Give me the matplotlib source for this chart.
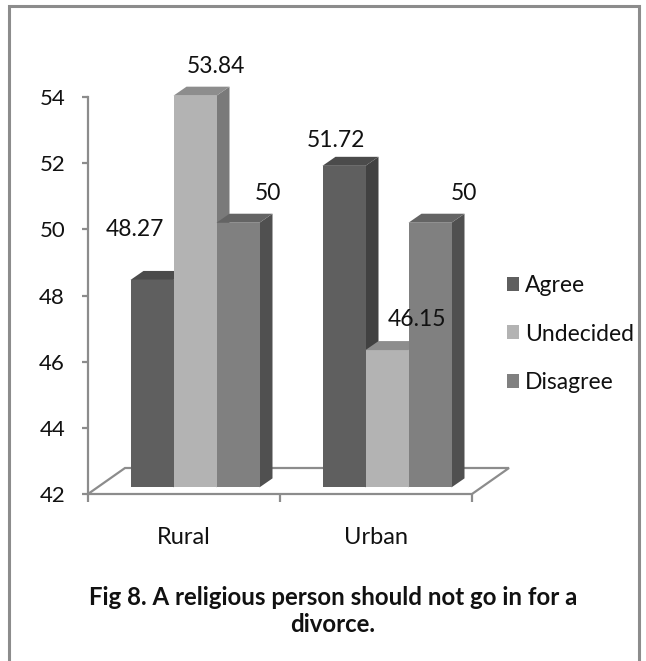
import matplotlib
matplotlib.use("Agg")
import matplotlib.pyplot as plt
from matplotlib.patches import Polygon, Rectangle
import numpy as np

plt.rcParams['font.family'] = ['Lato', 'DejaVu Sans']

groups = ["Rural", "Urban"]
series = ["Agree", "Undecided", "Disagree"]
values = [
    [48.27, 51.72],   # Agree
    [53.84, 46.15],   # Undecided
    [50, 50],         # Disagree
]
yticks = [42, 44, 46, 48, 50, 52, 54]
caption = "Fig 8. A religious person should not go in for a\ndivorce."

# front / top / side shades for each series
front = ["#5f5f5f", "#b3b3b3", "#808080"]
top = ["#4b4b4b", "#8d8d8d", "#646464"]
side = ["#414141", "#7a7a7a", "#505050"]
grey = "#8c8c8c"

# label offsets in pixels (x, y) for each bar, per group
label_off = [
    [(-17, 50), (-8, 25)],
    [(21, 29), (30, 31)],
    [(30, 29), (34, 29)],
]

W, H = 646, 661
fig = plt.figure(figsize=(W / 100, H / 100), dpi=100)

# outer frame
fig.patches.append(Rectangle((9 / W, -0.05), 630 / W, 1.05 - 6 / H,
                             transform=fig.transFigure, fill=False,
                             edgecolor=grey, lw=2.2))

ax = fig.add_axes([88 / W, 1 - 494 / H, 384 / W, (494 - 97) / H])
ax.set_xlim(-0.5, 1.5)
ax.set_ylim(42, 54)

ppx = 384 / 2.0            # pixels per category unit
ppy = (494 - 97) / 12.0    # pixels per value unit

# floor of the 3D box
fdx, fdy = 37 / ppx, 26 / ppy
floor = Polygon([(-0.5, 42), (-0.5 + fdx, 42 + fdy), (1.5 + fdx, 42 + fdy), (1.5, 42)],
                closed=True, facecolor="white", edgecolor=grey, lw=1.6,
                clip_on=False, zorder=1)
ax.add_patch(floor)

bw = 43 / ppx
shift = 11 / ppx
ddx, ddy = 13 / ppx, 9 / ppy
lift = 0.2
x = np.arange(len(groups))

for g in range(len(groups)):
    for i in range(len(series)):
        v = values[i][g]
        xc = x[g] + shift + (i - 1) * bw
        x0, x1 = xc - bw / 2, xc + bw / 2
        b, t = 42 + lift, v + lift
        z = 2 + g * 10 + i * 3
        ax.add_patch(Polygon([(x1, b), (x1 + ddx, b + ddy), (x1 + ddx, t + ddy), (x1, t)],
                             closed=True, facecolor=side[i], edgecolor="none",
                             clip_on=False, zorder=z))
        ax.bar(xc, t - b, bottom=b, width=bw, color=front[i], edgecolor="none",
               clip_on=False, zorder=z + 1, label=series[i] if g == 0 else None)
        ax.add_patch(Polygon([(x0, t), (x0 + ddx, t + ddy), (x1 + ddx, t + ddy), (x1, t)],
                             closed=True, facecolor=top[i], edgecolor="none",
                             clip_on=False, zorder=z + 2))
        ax.annotate(f"{v:g}", (xc, t), xytext=label_off[i][g], textcoords="offset pixels",
                    ha="center", va="center", fontsize=16.5, color="#111111",
                    annotation_clip=False, zorder=40)

for s in ["top", "right", "bottom"]:
    ax.spines[s].set_visible(False)
ax.spines["left"].set_color(grey)
ax.spines["left"].set_linewidth(1.6)

ax.set_yticks(yticks)
ax.set_yticklabels([str(t) for t in yticks], fontsize=16, color="#111111")
ax.tick_params(axis="y", length=4.5, width=1.6, color=grey, pad=12)

ax.set_xticks(x)
ax.set_xticklabels(groups, fontsize=17, color="#111111")
ax.set_xticks([-0.5, 0.5, 1.5], minor=True)
ax.tick_params(axis="x", which="major", length=0, pad=24)
ax.tick_params(axis="x", which="minor", length=6, width=1.6, color=grey)

fig.legend(loc="center left", bbox_to_anchor=(486 / W, 1 - 334 / H), frameon=False,
           fontsize=16.5, handlelength=0.55, handleheight=0.55, handletextpad=0.25,
           labelspacing=1.2, labelcolor="#111111")

fig.text(333 / W, 1 - 611 / H, caption, ha="center", va="center", fontsize=17.3,
         fontweight="bold", color="#111111", linespacing=1.2)

fig.savefig("out.png", dpi=100)
